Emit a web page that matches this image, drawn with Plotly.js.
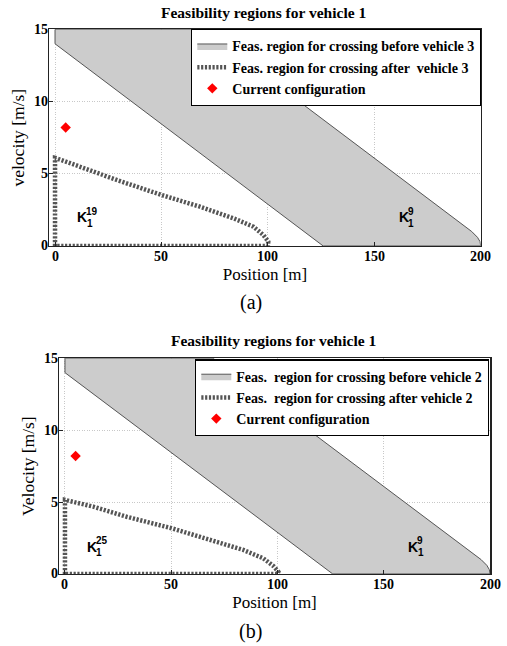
<!DOCTYPE html>
<html>
<head>
<meta charset="utf-8">
<script src="https://cdn.plot.ly/plotly-3.0.1.min.js"></script>
<style>html,body{margin:0;padding:0;background:#fff;}#chart{width:507px;height:646px;}</style>
</head>
<body>
<div id="chart"></div>
<script>
// Feasible region before the other vehicle (gray polygon) - same in both panels
const beforeX = [0, 0, 126, 200, 199.7, 198.5, 195.8, 69.7, 0];
const beforeY = [15, 14, 0, 0, 0.3, 0.6, 1.0, 15, 15];

// Feasible region after the other vehicle (dashed boundary), panel (a)
const afterAX = [0, 0, 0.8, 13.3, 29, 50.1, 68.1, 83.8, 93.2, 97.9, 100.2, 100, 0];
const afterAY = [0, 6.1, 6.07, 5.38, 4.57, 3.53, 2.72, 1.92, 1.34, 0.76, 0.3, 0, 0];

// Panel (b)
const afterBX = [0, 0, 13.3, 29, 50.2, 68.2, 83.9, 93.3, 98, 100.4, 100, 0];
const afterBY = [0, 5.15, 4.68, 3.98, 3.18, 2.36, 1.67, 1.09, 0.56, 0.16, 0, 0];

// Current configuration
const currentX = [5];
const currentY = [8.2];

const legendA = ['Feas. region for crossing before vehicle 3', 'Feas. region for crossing after  vehicle 3', 'Current configuration'];
const legendB = ['Feas.  region for crossing before vehicle 2', 'Feas.  region for crossing after vehicle 2', 'Current configuration'];
const xTicks = [0, 50, 100, 150, 200];
const yTicks = [0, 5, 10, 15];

function traces(xa, ya, afterX, afterY, names, leg) {
  return [
    {x: beforeX, y: beforeY, xaxis: xa, yaxis: ya, type: 'scatter', mode: 'lines', fill: 'toself',
     fillcolor: '#cccccc', line: {color: '#555555', width: 1}, name: names[0], legend: leg},
    {x: afterX, y: afterY, xaxis: xa, yaxis: ya, type: 'scatter', mode: 'lines',
     line: {color: '#555555', width: 4.5, dash: '2.2px,1.6px'}, name: names[1], legend: leg},
    {x: currentX, y: currentY, xaxis: xa, yaxis: ya, type: 'scatter', mode: 'markers',
     marker: {symbol: 'diamond', size: 8, color: '#ff0000'}, name: names[2], legend: leg}
  ];
}

const data = [].concat(
  traces('x', 'y', afterAX, afterAY, legendA, 'legend'),
  traces('x2', 'y2', afterBX, afterBY, legendB, 'legend2')
);

function xax(domain, range, anchor) {
  return {domain: domain, range: range, anchor: anchor, tickvals: xTicks, showticklabels: false,
    showgrid: true, gridcolor: '#c8c8c8', griddash: '1px,1.5px', gridwidth: 1, zeroline: false,
    showline: true, mirror: true, linecolor: '#222222', linewidth: 1.5,
    ticks: 'inside', ticklen: 4, tickcolor: '#222222',
    title: {text: 'Position [m]', font: {family: 'Liberation Serif', size: 17, color: '#000'}, standoff: 21}};
}
function yax(domain, anchor, title) {
  return {domain: domain, range: [0, 15], anchor: anchor, tickvals: yTicks, showticklabels: false,
    showgrid: true, gridcolor: '#c8c8c8', griddash: '1px,1.5px', gridwidth: 1, zeroline: false,
    showline: true, mirror: true, linecolor: '#222222', linewidth: 1.5,
    ticks: 'inside', ticklen: 4, tickcolor: '#222222',
    title: {text: title, font: {family: 'Liberation Serif', size: 17.5, color: '#000'}, standoff: 18}};
}

const tickFont = {family: 'Liberation Serif', size: 14, color: '#000', weight: 'bold'};
function tickLabels(xa, ya) {
  const xs = xTicks.map(v => ({xref: xa, yref: ya + ' domain', x: v, y: 0, text: String(v), showarrow: false,
    xanchor: 'center', yanchor: 'middle', yshift: -10.5, font: tickFont}));
  const ys = yTicks.map(v => ({xref: xa + ' domain', yref: ya, x: 0, y: v, text: String(v), showarrow: false,
    xanchor: 'right', yanchor: 'middle', xshift: 1, font: tickFont}));
  return xs.concat(ys);
}

function kLabel(xref, yref, x, y, sup) {
  return [
    {xref: xref, yref: yref, x: x, y: y, text: 'K', showarrow: false, xanchor: 'left', yanchor: 'middle',
     font: {family: 'Liberation Sans', size: 14, color: '#000', weight: 'bold'}},
    {xref: xref, yref: yref, x: x, y: y, text: sup, showarrow: false, xanchor: 'left', yanchor: 'middle',
     xshift: 9, yshift: 6, font: {family: 'Liberation Sans', size: 10, color: '#000', weight: 'bold'}},
    {xref: xref, yref: yref, x: x, y: y, text: '1', showarrow: false, xanchor: 'left', yanchor: 'middle',
     xshift: 9.5, yshift: -6, font: {family: 'Liberation Sans', size: 10, color: '#000', weight: 'bold'}}
  ];
}

function legendStyle(x, y) {
  return {x: x, y: y, xanchor: 'right', yanchor: 'top', bgcolor: '#ffffff', bordercolor: '#000000', borderwidth: 1.3,
    font: {family: 'Liberation Serif', size: 14, color: '#000', weight: 'bold'}};
}

const layout = {
  width: 507, height: 646,
  margin: {l: 0, r: 0, t: 0, b: 0},
  xaxis: xax([0.0972, 0.9481], [-2.7, 200], 'y'),
  yaxis: yax([0.6192, 0.9546], 'x', 'velocity [m/s]'),
  xaxis2: xax([0.1164, 0.9665], [-2.8, 200], 'y2'),
  yaxis2: yax([0.1115, 0.4454], 'x2', 'Velocity [m/s]'),
  legend: legendStyle(0.9487, 0.955),
  legend2: legendStyle(0.9645, 0.4438),
  annotations: [].concat(
    [{xref: 'paper', yref: 'paper', x: 0.519, y: 0.981, text: 'Feasibility regions for vehicle 1', showarrow: false,
      xanchor: 'center', yanchor: 'middle', font: {family: 'Liberation Serif', size: 15.5, color: '#000', weight: 'bold'}},
     {xref: 'paper', yref: 'paper', x: 0.539, y: 0.4726, text: 'Feasibility regions for vehicle 1', showarrow: false,
      xanchor: 'center', yanchor: 'middle', font: {family: 'Liberation Serif', size: 15.5, color: '#000', weight: 'bold'}},
     {xref: 'paper', yref: 'paper', x: 0.4944, y: 0.531, text: '(a)', showarrow: false,
      xanchor: 'center', yanchor: 'middle', font: {family: 'Liberation Serif', size: 20, color: '#000'}},
     {xref: 'paper', yref: 'paper', x: 0.4944, y: 0.0222, text: '(b)', showarrow: false,
      xanchor: 'center', yanchor: 'middle', font: {family: 'Liberation Serif', size: 20, color: '#000'}}],
    tickLabels('x', 'y'),
    tickLabels('x2', 'y2'),
    kLabel('x', 'y', 9.4, 2.0, '19'),
    kLabel('x', 'y', 160.6, 2.0, '9'),
    kLabel('x2', 'y2', 9.4, 1.9, '25'),
    kLabel('x2', 'y2', 160.5, 1.9, '9')
  )
};

Plotly.newPlot('chart', data, layout, {displayModeBar: false, staticPlot: true});
</script>
</body>
</html>
